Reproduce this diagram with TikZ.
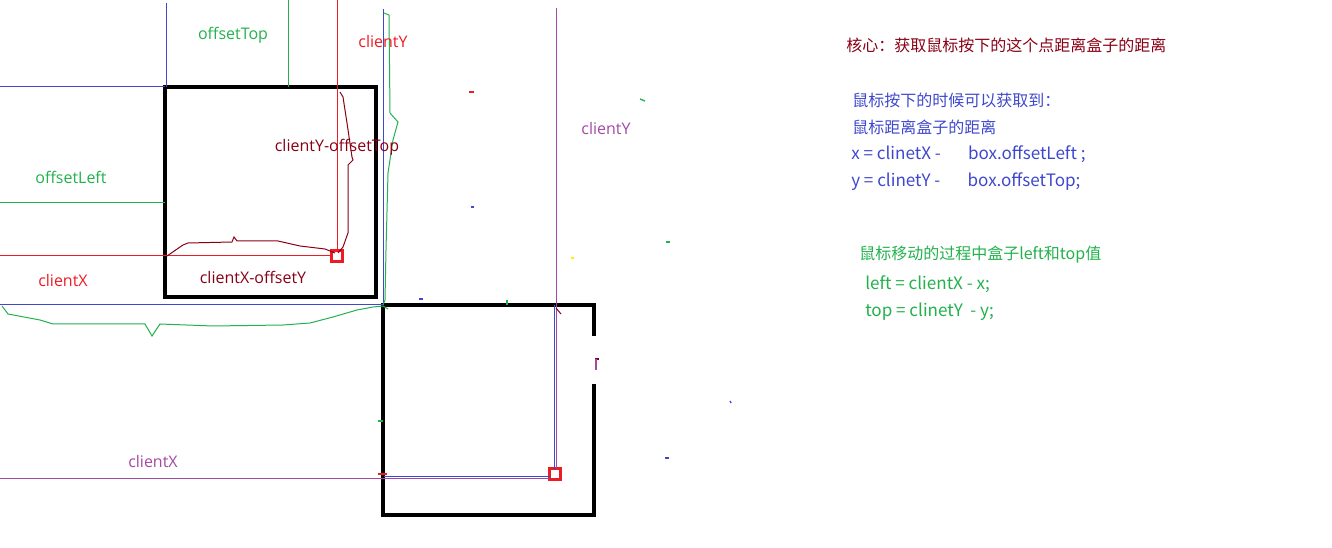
\documentclass[tikz,border=0pt]{standalone}
\usepackage{fontspec}
\usetikzlibrary{calc}
\setmainfont{Open Sans}
\newfontfamily\cjk{Noto Sans CJK SC}

\definecolor{pgreen}{HTML}{22B14C}
\definecolor{pred}{HTML}{ED1C24}
\definecolor{pdark}{HTML}{880015}
\definecolor{pblue}{HTML}{3F48CC}
\definecolor{ppurple}{HTML}{A349A4}

\tikzset{
  thin line/.style={line width=0.75pt},
  box/.style={draw=black, line width=2.4pt},
  mark box/.style={draw=pred, line width=2.8pt},
  lbl/.style={inner sep=0pt, font=\fontsize{12}{14}\selectfont},
  note/.style={inner sep=0pt, anchor=west, font=\cjk\fontsize{12}{14}\selectfont},
  code note/.style={note, font=\cjk\fontsize{12.8}{14}\selectfont},
  speck/.style={line width=1pt}
}

\begin{document}
\begin{tikzpicture}[x=0.75pt, y=-0.75pt]
  \useasboundingbox (0,0) rectangle (1332,548);

  % the two boxes
  \coordinate (boxA nw) at (165,87);
  \coordinate (boxA se) at (376,297);
  \coordinate (boxB nw) at (383,305);
  \coordinate (boxB se) at (594,515);
  \draw [box] (boxA nw) rectangle (boxA se);
  \draw [box] (594,336) -- (594,305) -- (383,305) -- (383,515) -- (594,515) -- (594,384);

  % mouse points
  \coordinate (mouseA) at (337,256);
  \coordinate (mouseB) at (555,474);
  \draw [mark box] ($(mouseA)+(-5.5,-5.5)$) rectangle ($(mouseA)+(5.5,5.5)$);
  \draw [mark box] ($(mouseB)+(-5.5,-5.5)$) rectangle ($(mouseB)+(5.5,5.5)$);

  % offsets of the first box
  \draw [thin line, pblue] (166,3) -- (166,87);
  \draw [thin line, pblue] (0,87) -- (165,87);
  \draw [thin line, pgreen] (288,0) -- (288,87);
  \draw [thin line, pgreen] (0,203) -- (165,203);

  % clientX / clientY of the first point
  \draw [thin line, pred] (337,0) -- (337,250);
  \draw [thin line, pred] (0,256) -- (331,256);

  % corner of the second box
  \draw [thin line, pblue] (383,9) -- (383,305);
  \draw [thin line, pblue] (0,305) -- (383,305);
  \draw [thin line, pblue] (554,305) -- (554,470);
  \draw [thin line, pblue] (384,477) -- (551,477);

  % clientX / clientY of the second point
  \draw [thin line, ppurple] (556,8) -- (556,468);
  \draw [thin line, ppurple] (0,479) -- (549,479);

  % braces drawn by hand
  \draw [thin line, pgreen] (384,13) -- (389,15) -- (390,113) -- (398,122) -- (393,140)
    -- (388,173) -- (386,250) -- (385,300) -- (383,305);
  \draw [thin line, pgreen] (2,306) -- (5,310) -- (8,314) -- (40,320) -- (53,324) -- (145,324)
    -- (152,336) -- (160,324) -- (213,326) -- (283,325) -- (310,323) -- (333,317)
    -- (357,310) -- (373,307) -- (383,306) -- (388,309);
  \draw [thin line, pdark] (167,256) -- (183,245) -- (188,243) -- (232,242) -- (234,237)
    -- (237,241) -- (278,241) -- (300,246) -- (325,249) -- (335,253);
  \draw [thin line, pdark] (340,92) -- (343,97) -- (347,123) -- (352,157) -- (353,160)
    -- (348,165) -- (348,200) -- (348,233) -- (343,247) -- (338,253);
  \draw [thin line, pdark] (556,308) -- (561,314);

  % stray marks
  \draw [speck, pred] (469,92) -- (474,92);
  \draw [speck, pgreen] (640,99) -- (645,101);
  \draw [speck, pblue] (471,207) -- (474,207);
  \draw [speck, pgreen] (666,242) -- (670,242);
  \draw [speck, yellow] (571,258) -- (574,258);
  \draw [speck, pblue] (419,299) -- (423,299);
  \draw [speck, pgreen] (507,300) -- (507,305);
  \draw [speck, pgreen] (378,421) -- (383,421);
  \draw [speck, pred] (378,474) -- (387,474);
  \draw [speck, pblue] (730,401) -- (731,403);
  \draw [speck, pblue] (665,458) -- (669,458);
  \draw [speck, pdark] (595,359) -- (599,359);
  \draw [speck, ppurple] (596,359) -- (596,370);

  % labels
  \node [lbl, text=pgreen] (lblOffsetTop) at (233,35) {offsetTop};
  \node [lbl, text=pred] (lblClientYa) at (383,42) {clientY};
  \node [lbl, text=pdark] (lblDiffY) at (337,147) {clientY-offsetTop};
  \node [lbl, text=pgreen] (lblOffsetLeft) at (71,177) {offsetLeft};
  \node [lbl, text=pred] (lblClientXa) at (63,281) {clientX};
  \node [lbl, text=pdark] (lblDiffX) at (253,277) {clientX-offsetY};
  \node [lbl, text=ppurple] (lblClientYb) at (606,129) {clientY};
  \node [lbl, text=ppurple] (lblClientXb) at (153,462) {clientX};

  % notes on the right
  \node [note, text=pdark] (core) at (846,45) {核心：获取鼠标按下的这个点距离盒子的距离};
  \node [note, text=pblue] (down) at (852,100) {鼠标按下的时候可以获取到：};
  \node [note, text=pblue] (dist) at (852,127) {鼠标距离盒子的距离};
  \node [code note, text=pblue] (xline) at (851,154) {x = clinetX -\hspace{1.6em}box.offsetLeft ;};
  \node [code note, text=pblue] (yline) at (851,182) {y = clinetY -\hspace{1.6em}box.offsetTop;};
  \node [note, text=pgreen] (move) at (859,255) {鼠标移动的过程中盒子left和top值};
  \node [code note, text=pgreen] (leftline) at (865,284) {left = clientX - x;};
  \node [code note, text=pgreen] (topline) at (865,312) {top = clinetY \ - y;};
\end{tikzpicture}
\end{document}
